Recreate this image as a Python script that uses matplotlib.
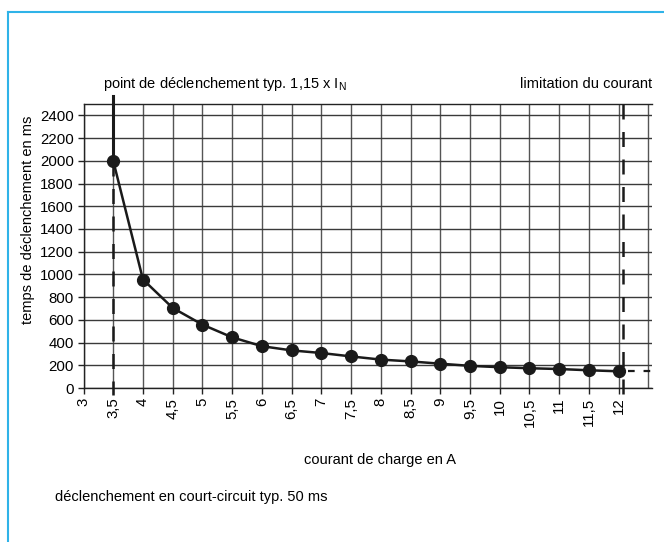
import matplotlib
matplotlib.use("Agg")
import matplotlib.pyplot as plt
from matplotlib.lines import Line2D

plt.rcParams['font.family'] = ['Liberation Sans', 'DejaVu Sans']

# Data
current_A = [3.5, 4, 4.5, 5, 5.5, 6, 6.5, 7, 7.5, 8, 8.5, 9, 9.5, 10, 10.5, 11, 11.5, 12]
trip_ms = [2000, 955, 705, 558, 446, 368, 331, 308, 278, 250, 234, 214, 195, 183, 174, 167, 156, 147]
x_ticks = [3, 3.5, 4, 4.5, 5, 5.5, 6, 6.5, 7, 7.5, 8, 8.5, 9, 9.5, 10, 10.5, 11, 11.5, 12]
x_ticklabels = ["3", "3,5", "4", "4,5", "5", "5,5", "6", "6,5", "7", "7,5", "8", "8,5",
                "9", "9,5", "10", "10,5", "11", "11,5", "12"]
x_grid = x_ticks + [12.5]
y_ticks = list(range(0, 2401, 200))
trip_point_x = 3.5
limit_x = 12.07
limit_ms = 150

W, H = 664, 542
fig = plt.figure(figsize=(W / 100, H / 100), dpi=100)

# blue frame
fig.add_artist(Line2D([8 / W, 8 / W], [0, 1 - 12 / H], color='#2fb3e8', lw=1.5,
                      transform=fig.transFigure))
fig.add_artist(Line2D([8 / W, 1], [1 - 12 / H, 1 - 12 / H], color='#2fb3e8', lw=1.5,
                      transform=fig.transFigure))

left, right, bottom, top = 83.5 / W, 652 / W, 1 - 388 / H, 1 - 104 / H
ax = fig.add_axes([left, bottom, right - left, top - bottom])
ax.set_xlim(3, 12.56)
ax.set_ylim(0, 2500)

gc = '#3a3a3a'
for xv in x_grid:
    ax.axvline(xv, color='#555555', lw=1.0, zorder=1)
for yv in y_ticks:
    ax.axhline(yv, color=gc, lw=1.0, zorder=1)

for s in ax.spines.values():
    s.set_color('#222222')
    s.set_linewidth(1.0)
ax.spines['right'].set_visible(False)

ax.set_xticks(x_ticks)
ax.set_xticklabels(x_ticklabels, rotation=90, fontsize=10.8)
ax.set_yticks(y_ticks)
ax.set_yticklabels([str(v) for v in y_ticks], fontsize=10.8)
ax.tick_params(axis='both', direction='out', length=4, width=1.0, color='#222222', pad=3)

# trip point vertical line
ax.plot([trip_point_x, trip_point_x], [trip_ms[0], 2570], color='#1a1a1a', lw=2.2,
        clip_on=False, zorder=3)
ax.plot([trip_point_x, trip_point_x], [trip_ms[0], -60], color='#1a1a1a', lw=1.8,
        dashes=(6, 5), clip_on=False, zorder=3)

# current limitation line
ax.plot([limit_x, limit_x], [2500, -60], color='#1a1a1a', lw=1.8, dashes=(6, 5),
        clip_on=False, zorder=3)
ax.plot([limit_x + 0.08, 12.56], [limit_ms, limit_ms], color='#1a1a1a', lw=1.6,
        dashes=(3, 4), zorder=3)

# curve
ax.plot(current_A, trip_ms, color='#1a1a1a', lw=1.8, marker='o', markersize=8.5,
        zorder=4)

fs = 10.5
fig.text(103 / W, 1 - 84 / H,
         r"point de déclenchement typ. 1,15 x I$_\mathregular{N}$",
         fontsize=fs, ha='left', va='center')
fig.text(652 / W, 1 - 84 / H, "limitation du courant", fontsize=fs,
         ha='right', va='center')
fig.text(28 / W, 1 - 220 / H, "temps de déclenchement en ms", fontsize=fs,
         rotation=90, ha='center', va='center')
fig.text(380 / W, 1 - 460 / H, "courant de charge en A", fontsize=fs,
         ha='center', va='center')
fig.text(55 / W, 1 - 497 / H, "déclenchement en court-circuit typ. 50 ms", fontsize=fs,
         ha='left', va='center')

fig.savefig("out.png", dpi=100)
